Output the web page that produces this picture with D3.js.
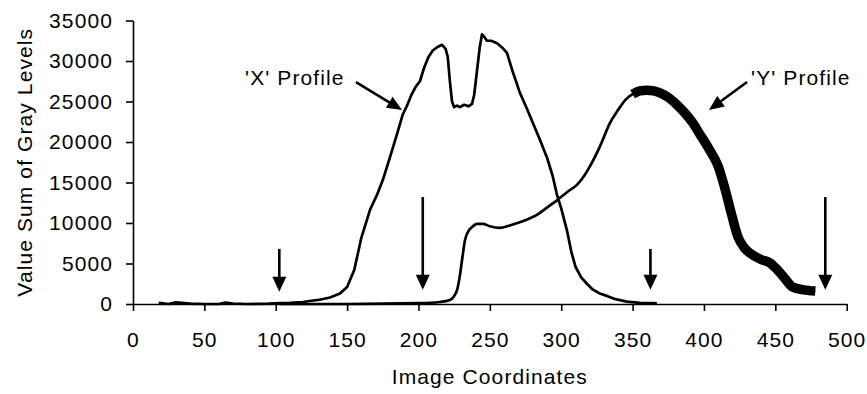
<!DOCTYPE html>
<html>
<head>
<meta charset="utf-8">
<script src="https://cdn.jsdelivr.net/npm/d3@7"></script>
<style>
  body { margin: 0; background: #fff; }
  text { font-family: Arial, 'Liberation Sans', sans-serif; }
</style>
</head>
<body>
<div id="chart"></div>
<script>
// 'X' profile
let xProfX = [18, 25, 30, 40, 50, 60, 65, 70, 80, 95, 103, 110, 119, 125, 130, 138, 145, 150, 155, 160, 166, 171, 175, 180, 185, 189, 192, 195, 198, 201, 204, 207, 210, 213, 216.5, 219, 220.5, 222, 223.5, 225, 227, 229, 232, 235, 237.5, 239, 241, 243, 244.5, 246, 248, 251, 255, 259, 262, 266, 271, 276, 280, 285, 290, 294, 297, 300, 304, 307, 310, 314, 318, 322, 327, 332, 338, 346, 355, 364, 367]
let xProfV = [150, 0, 200, 50, 0, 0, 180, 60, 0, 40, 100, 150, 250, 400, 500, 800, 1300, 2100, 4200, 8200, 11600, 13500, 15300, 18100, 21000, 23400, 24500, 25800, 26800, 27500, 29200, 30500, 31300, 31700, 32000, 31500, 30500, 27500, 25000, 24300, 24500, 24300, 24600, 24400, 24700, 25800, 28800, 31800, 33300, 33000, 32500, 32500, 32200, 31600, 31000, 28700, 26100, 24100, 22400, 20300, 18100, 15800, 13500, 11800, 9100, 6500, 4600, 3300, 2500, 1800, 1300, 1000, 600, 300, 150, 100, 80]

// 'Y' profile
let yProfX = [103, 150, 200, 215, 222, 225, 227, 229, 230.5, 232.6, 235, 237.5, 241, 245, 250, 257, 264, 271, 277, 283, 290, 297, 304, 311, 316, 322, 328, 334, 340, 345, 350, 355, 360, 365, 370, 375, 381, 386, 392, 397, 404, 410, 414, 419, 424, 428, 432, 440, 446, 451, 456, 462, 470, 478]
let yProfV = [0, 0, 100, 250, 500, 1000, 1700, 3500, 5400, 7900, 9000, 9500, 9900, 9900, 9600, 9400, 9700, 10100, 10500, 11000, 11900, 12800, 13800, 14700, 15800, 17600, 19800, 22300, 24000, 25200, 25900, 26300, 26400, 26300, 26000, 25500, 24600, 23700, 22400, 21000, 19000, 17000, 14700, 11300, 8200, 7000, 6300, 5500, 5100, 4300, 3300, 2100, 1750, 1600]
// the noisy (thick) stretch of the 'Y' profile
let yNoiseFrom = 349

// tick labels
let xTicks = [0, 50, 100, 150, 200, 250, 300, 350, 400, 450, 500]
let yTicks = [0, 5000, 10000, 15000, 20000, 25000, 30000, 35000]

// vertical marker arrows (x, top value, tip value)
let markerX = [102.5, 203, 362.5, 485]
let markerTop = [6800, 13200, 6800, 13200]
let markerTip = [1500, 1750, 1750, 1750]

// callout labels and their arrows
let calloutText = ["'X' Profile", "'Y' Profile"]
let calloutX = [78.5, 433]
let calloutY = [27000, 27000]
let calloutArrowFrom = [[156.2, 27400], [430.2, 27400]]
let calloutArrowTo = [[188.5, 23950], [403.5, 23950]]

let width = 867
let height = 394
let margin = { top: 20.5, left: 133, right: 20.3, bottom: 90 }

let svg = d3
  .select('#chart')
  .append('svg')
  .attr('width', width)
  .attr('height', height)

let xPositionScale = d3.scaleLinear().domain([0, 500]).range([margin.left, width - margin.right])
let yPositionScale = d3.scaleLinear().domain([0, 35000]).range([height - margin.bottom, margin.top])

let fontSize = 21
let spacing = 1.1

// axes
let xAxis = d3
  .axisBottom(xPositionScale)
  .tickValues(xTicks)
  .tickSize(7)
  .tickSizeOuter(0)
  .tickPadding(21)
  .tickFormat(d3.format('d'))
svg
  .append('g')
  .attr('class', 'axis x-axis')
  .attr('transform', 'translate(0,' + yPositionScale(0) + ')')
  .call(xAxis)

let yAxis = d3
  .axisLeft(yPositionScale)
  .tickValues(yTicks)
  .tickSize(7)
  .tickSizeOuter(0)
  .tickPadding(13)
  .tickFormat(d3.format('d'))
svg
  .append('g')
  .attr('class', 'axis y-axis')
  .attr('transform', 'translate(' + xPositionScale(0) + ',0)')
  .call(yAxis)

svg.selectAll('.axis path, .axis line')
  .attr('stroke', '#000')
  .attr('stroke-width', 1.6)
svg.selectAll('.axis text')
  .attr('font-size', fontSize)
  .attr('font-family', "Arial, 'Liberation Sans', sans-serif")
  .attr('letter-spacing', spacing)
  .attr('fill', '#000')

// axis titles
svg
  .append('text')
  .attr('x', (xPositionScale(0) + xPositionScale(500)) / 2)
  .attr('y', 384)
  .attr('text-anchor', 'middle')
  .attr('font-size', fontSize)
  .attr('letter-spacing', spacing)
  .text('Image Coordinates')

svg
  .append('text')
  .attr('transform', 'translate(32,' + (yPositionScale(0) + yPositionScale(35000)) / 2 + ') rotate(-90)')
  .attr('text-anchor', 'middle')
  .attr('font-size', fontSize)
  .attr('letter-spacing', spacing)
  .text('Value Sum of Gray Levels')

// profiles
let line = d3
  .line()
  .x(d => xPositionScale(d[0]))
  .y(d => yPositionScale(d[1]))

let smoothLine = d3
  .line()
  .curve(d3.curveMonotoneX)
  .x(d => xPositionScale(d[0]))
  .y(d => yPositionScale(d[1]))

let xPoints = xProfX.map((d, i) => [d, xProfV[i]])
let yPoints = yProfX.map((d, i) => [d, yProfV[i]])

svg
  .append('path')
  .datum(xPoints)
  .attr('class', 'x-profile')
  .attr('d', line)
  .attr('fill', 'none')
  .attr('stroke', '#000')
  .attr('stroke-width', 2.7)
  .attr('stroke-linejoin', 'round')

svg
  .append('path')
  .datum(yPoints)
  .attr('class', 'y-profile')
  .attr('d', smoothLine)
  .attr('fill', 'none')
  .attr('stroke', '#000')
  .attr('stroke-width', 2.7)
  .attr('stroke-linejoin', 'round')

svg
  .append('path')
  .datum(yPoints.filter(d => d[0] >= yNoiseFrom))
  .attr('class', 'y-profile-noise')
  .attr('d', smoothLine)
  .attr('fill', 'none')
  .attr('stroke', '#000')
  .attr('stroke-width', 9.5)
  .attr('stroke-linejoin', 'round')

// arrows
function arrow(x1, y1, x2, y2, headLen, headWidth) {
  let dx = x2 - x1
  let dy = y2 - y1
  let len = Math.sqrt(dx * dx + dy * dy)
  let ux = dx / len
  let uy = dy / len
  let bx = x2 - ux * headLen
  let by = y2 - uy * headLen
  svg
    .append('line')
    .attr('x1', x1)
    .attr('y1', y1)
    .attr('x2', bx + ux * 2)
    .attr('y2', by + uy * 2)
    .attr('stroke', '#000')
    .attr('stroke-width', 2.6)
  let px = -uy * headWidth / 2
  let py = ux * headWidth / 2
  svg
    .append('polygon')
    .attr('points', [[x2, y2], [bx + px, by + py], [bx - px, by - py]].map(p => p.join(',')).join(' '))
    .attr('fill', '#000')
}

markerX.forEach((d, i) => {
  arrow(xPositionScale(d), yPositionScale(markerTop[i]), xPositionScale(d), yPositionScale(markerTip[i]), 15, 14)
})

calloutText.forEach((d, i) => {
  svg
    .append('text')
    .attr('x', xPositionScale(calloutX[i]))
    .attr('y', yPositionScale(calloutY[i]))
    .attr('font-size', fontSize)
    .attr('letter-spacing', spacing)
    .text(d)
  arrow(
    xPositionScale(calloutArrowFrom[i][0]),
    yPositionScale(calloutArrowFrom[i][1]),
    xPositionScale(calloutArrowTo[i][0]),
    yPositionScale(calloutArrowTo[i][1]),
    15,
    13
  )
})
</script>
</body>
</html>
